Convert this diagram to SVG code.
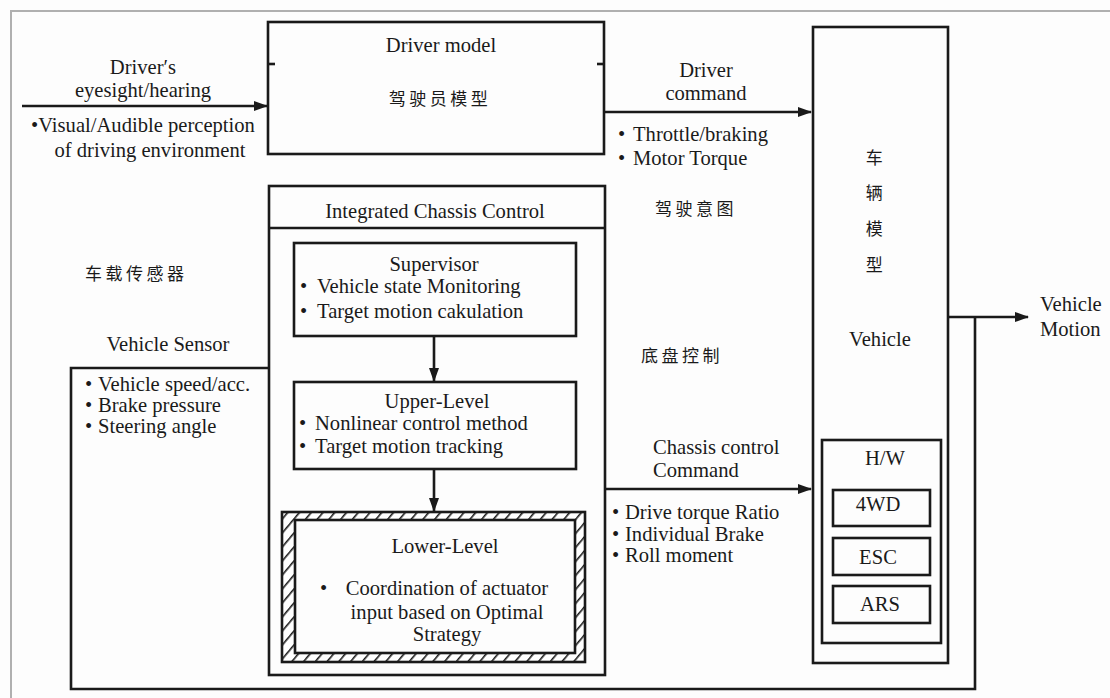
<svg xmlns="http://www.w3.org/2000/svg" width="1110" height="698" viewBox="0 0 1110 698">
<defs>
<style>
.t{font-family:"Liberation Serif","Noto Sans CJK SC",serif;font-size:20.6px;fill:#1a1a1a}
.c{font-family:"Noto Sans CJK SC","Liberation Serif",serif;font-size:17px;fill:#1a1a1a;letter-spacing:3.5px}
.m{text-anchor:middle}
.box{fill:none;stroke:#1a1a1a;stroke-width:2.6}
.ln{fill:none;stroke:#1a1a1a;stroke-width:2.6}
.frame{stroke:#b0b0b0;stroke-width:2;fill:none}
</style>
<marker id="arr" viewBox="0 0 14 10" refX="13" refY="5" markerWidth="14" markerHeight="10" markerUnits="userSpaceOnUse" orient="auto">
<path d="M0,0 L14,5 L0,10 z" fill="#1a1a1a"/>
</marker>
<pattern id="hatch" patternUnits="userSpaceOnUse" width="9" height="9" patternTransform="rotate(40)">
<rect width="9" height="9" fill="#fff"/>
<line x1="0" y1="0" x2="0" y2="9" stroke="#1a1a1a" stroke-width="3.2"/>
</pattern>
</defs>
<rect width="1110" height="698" fill="#fdfdfd"/>
<path class="frame" d="M11,698 V11 H1110"/>

<g id="connectors">
<line class="ln" x1="22" y1="106" x2="267" y2="106" marker-end="url(#arr)"/>
<line class="ln" x1="604" y1="112" x2="811" y2="112" marker-end="url(#arr)"/>
<line class="ln" x1="605" y1="489" x2="811" y2="489" marker-end="url(#arr)"/>
<line class="ln" x1="948" y1="317" x2="1028" y2="317" marker-end="url(#arr)"/>
<line class="ln" x1="434" y1="336" x2="434" y2="381" marker-end="url(#arr)"/>
<line class="ln" x1="434" y1="469" x2="434" y2="511" marker-end="url(#arr)"/>
<polyline class="ln" points="975,317 975,689 71,689 71,368 269,368"/>
</g>

<g id="driver-model">
<rect class="box" x="268" y="22" width="336" height="132"/>
<line class="ln" x1="268" y1="64" x2="275" y2="64"/>
<line class="ln" x1="597" y1="64" x2="604" y2="64"/>
<text class="t m" x="441" y="52">Driver model</text>
<text class="c m" x="440" y="105">驾驶员模型</text>
</g>

<g id="input-label">
<text class="t m" x="143" y="74">Driver′s</text>
<text class="t m" x="143" y="97">eyesight/hearing</text>
<text class="t" x="31" y="132">•Visual/Audible perception</text>
<text class="t m" x="150" y="157">of driving environment</text>
</g>

<g id="driver-command-label">
<text class="t m" x="706" y="77">Driver</text>
<text class="t m" x="706" y="100">command</text>
<text class="t" x="618" y="141">•</text>
<text class="t" x="633" y="141">Throttle/braking</text>
<text class="t" x="618" y="165">•</text>
<text class="t" x="633" y="165">Motor Torque</text>
<text class="c" x="655" y="215">驾驶意图</text>
<text class="c" x="641" y="362">底盘控制</text>
</g>

<g id="vehicle">
<rect class="box" x="813" y="27" width="135" height="636"/>
<text class="c m" x="876" y="164">车</text>
<text class="c m" x="876" y="199">辆</text>
<text class="c m" x="876" y="235">模</text>
<text class="c m" x="876" y="271">型</text>
<text class="t m" x="880" y="346">Vehicle</text>
</g>

<g id="hw">
<rect class="box" x="822" y="440" width="119" height="203"/>
<text class="t m" x="885" y="465">H/W</text>
</g>
<g id="hw-4wd">
<rect class="box" x="833" y="490" width="97" height="36"/>
<text class="t m" x="878" y="511">4WD</text>
</g>
<g id="hw-esc">
<rect class="box" x="833" y="538" width="97" height="37"/>
<text class="t m" x="878" y="564">ESC</text>
</g>
<g id="hw-ars">
<rect class="box" x="833" y="586" width="97" height="37"/>
<text class="t m" x="880" y="611">ARS</text>
</g>

<g id="vehicle-motion-label">
<text class="t" x="1040" y="311">Vehicle</text>
<text class="t" x="1040" y="336">Motion</text>
</g>

<g id="chassis-command-label">
<text class="t" x="653" y="454">Chassis control</text>
<text class="t" x="653" y="477">Command</text>
<text class="t" x="612" y="519">•</text>
<text class="t" x="625" y="519">Drive torque Ratio</text>
<text class="t" x="612" y="541">•</text>
<text class="t" x="625" y="541">Individual Brake</text>
<text class="t" x="612" y="562">•</text>
<text class="t" x="625" y="562">Roll moment</text>
</g>

<g id="sensor">
<text class="c" x="85" y="280">车载传感器</text>
<text class="t m" x="168" y="351">Vehicle Sensor</text>
<text class="t" x="85" y="391">•</text>
<text class="t" x="98" y="391">Vehicle speed/acc.</text>
<text class="t" x="85" y="412">•</text>
<text class="t" x="98" y="412">Brake pressure</text>
<text class="t" x="85" y="433">•</text>
<text class="t" x="98" y="433">Steering angle</text>
</g>

<g id="integrated-chassis-control">
<rect class="box" x="269" y="186" width="336" height="489"/>
<line class="ln" x1="269" y1="228" x2="605" y2="228"/>
<text class="t m" x="435" y="218">Integrated Chassis Control</text>
</g>

<g id="supervisor">
<rect class="box" x="294" y="243" width="282" height="93"/>
<text class="t m" x="434" y="271">Supervisor</text>
<text class="t" x="300" y="293">•</text>
<text class="t" x="317" y="293">Vehicle state Monitoring</text>
<text class="t" x="300" y="318">•</text>
<text class="t" x="317" y="318">Target motion cakulation</text>
</g>

<g id="upper-level">
<rect class="box" x="294" y="382" width="282" height="87"/>
<text class="t m" x="437" y="408">Upper-Level</text>
<text class="t" x="299" y="430">•</text>
<text class="t" x="315" y="430">Nonlinear control method</text>
<text class="t" x="299" y="453">•</text>
<text class="t" x="315" y="453">Target motion tracking</text>
</g>

<g id="lower-level">
<path d="M282,512 H585 V662 H282 Z M295,520 V653 H575 V520 Z" fill="url(#hatch)" fill-rule="evenodd"/>
<rect class="box" x="282" y="512" width="303" height="150"/>
<rect class="box" x="295" y="520" width="280" height="133" fill="#fff"/>
<text class="t m" x="445" y="553">Lower-Level</text>
<text class="t" x="320" y="595">•</text>
<text class="t m" x="447" y="595">Coordination of actuator</text>
<text class="t m" x="447" y="619">input based on Optimal</text>
<text class="t m" x="447" y="641">Strategy</text>
</g>
</svg>
